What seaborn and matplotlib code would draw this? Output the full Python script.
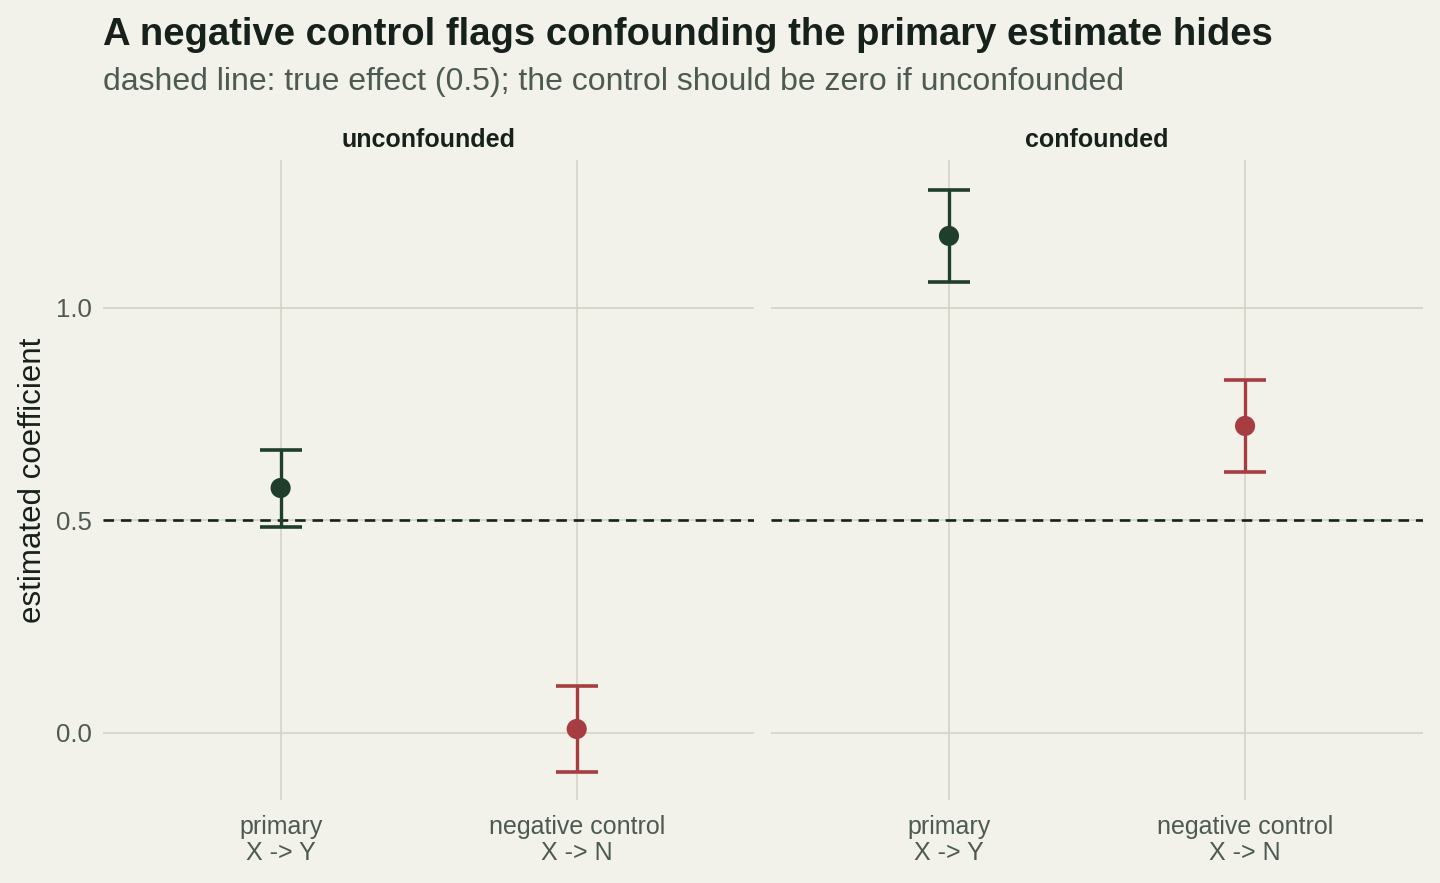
import numpy as np
import pandas as pd
from matplotlib import pyplot as plt
import seaborn as sns

# Werte
scenarios = ["unconfounded", "unconfounded", "confounded", "confounded"]
estimands = ["primary\nX -> Y", "negative control\nX -> N", "primary\nX -> Y", "negative control\nX -> N"]
kinds = ["primary", "control", "primary", "control"]
estimates = [0.576, 0.009, 1.169, 0.722]
ci_low = [0.485, -0.092, 1.061, 0.614]
ci_high = [0.666, 0.111, 1.278, 0.831]
true_effect = 0.5

bg = "#f2f1ea"
grid_col = "#d4d4c6"
text_dark = "#17211c"
text_mid = "#4d5a52"
palette = {"primary": "#1f3f2c", "control": "#a63d40"}

df = pd.DataFrame({
    "scenario": scenarios,
    "estimand": estimands,
    "kind": kinds,
    "estimate": estimates,
    "lo": ci_low,
    "hi": ci_high,
})


def draw_ci(data, **kwargs):
    ax = plt.gca()
    order = ["primary\nX -> Y", "negative control\nX -> N"]
    xpos = [order.index(e) for e in data["estimand"]]
    for x, (_, row) in zip(xpos, data.iterrows()):
        c = palette[row["kind"]]
        ax.errorbar(x, row["estimate"],
                    yerr=[[row["estimate"] - row["lo"]], [row["hi"] - row["estimate"]]],
                    fmt="none", ecolor=c, elinewidth=2.4, capsize=15, capthick=2.6, zorder=3)
    sns.scatterplot(x=xpos, y=data["estimate"].values, hue=data["kind"].values,
                    palette=palette, s=210, edgecolor="none", legend=False, ax=ax, zorder=4)
    ax.axhline(true_effect, color=text_dark, lw=1.9, ls=(0, (4, 2.6)), zorder=2)
    ax.set_xticks([0, 1])
    ax.set_xticklabels(order, linespacing=1.08)


sns.set_theme(style="whitegrid")
plt.rcParams["font.family"] = ["Liberation Sans", "DejaVu Sans"]
plt.rcParams["figure.facecolor"] = bg
plt.rcParams["axes.facecolor"] = bg

g = sns.FacetGrid(df, col="scenario", col_order=["unconfounded", "confounded"],
                  sharey=True, height=6, aspect=1.0)
g.map_dataframe(draw_ci)
g.figure.set_size_inches(14.4, 8.83)
g.figure.subplots_adjust(left=0.0715, right=0.988, top=0.819, bottom=0.094, wspace=0.026)

for ax, name in zip(g.axes.flat, ["unconfounded", "confounded"]):
    ax.set_title(name, fontsize=18, fontweight="bold", color=text_dark, pad=9)
    ax.set_xlim(-0.6, 1.6)
    ax.set_ylim(-0.158, 1.348)
    ax.set_yticks([0.0, 0.5, 1.0])
    ax.set_yticklabels(["0.0", "0.5", "1.0"])
    ax.grid(True, color=grid_col, lw=1.2)
    ax.set_axisbelow(True)
    for s in ax.spines.values():
        s.set_visible(False)
    ax.tick_params(axis="x", length=0, labelsize=18, colors=text_mid, pad=11)
    ax.tick_params(axis="y", length=0, labelsize=18.5, colors=text_mid, pad=8)
    ax.set_xlabel("")
    ax.set_ylabel("")

g.axes.flat[0].set_ylabel("estimated coefficient", fontsize=22.5, color=text_dark, labelpad=6)

fig = g.figure
fig.text(0.0715, 0.949, "A negative control flags confounding the primary estimate hides",
         fontsize=27.5, fontweight="bold", color=text_dark, ha="left", va="baseline")
fig.text(0.0715, 0.898, "dashed line: true effect (0.5); the control should be zero if unconfounded",
         fontsize=23, color=text_mid, ha="left", va="baseline")

fig.savefig("out.png", dpi=100, facecolor=bg)
